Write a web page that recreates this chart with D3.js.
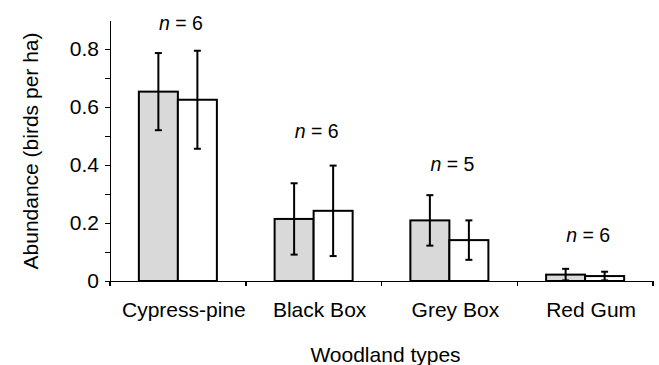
<!DOCTYPE html>
<html>
<head>
<meta charset="utf-8">
<script src="https://d3js.org/d3.v7.min.js"></script>
<style>
	body { margin: 0; background: #fff; }
	svg { font-family: "Liberation Sans", Arial, sans-serif; }
	.axis path, .axis line { stroke: #000; stroke-width: 1.5; shape-rendering: crispEdges; }
	.axis text { font-size: 21px; fill: #000; }
	.labels { font-size: 21px; fill: #000; }
	.nlab { font-size: 19.5px; fill: #000; }
</style>
</head>
<body>
<script>

// woodland types
var categories = ["Cypress-pine", "Black Box", "Grey Box", "Red Gum"];
var series = ["grey", "white"];

// mean abundance (birds per ha) and error bar half-width, one per series
var greyValues  = [0.653, 0.214, 0.209, 0.022];
var greyErrors  = [0.133, 0.123, 0.087, 0.020];
var whiteValues = [0.625, 0.242, 0.141, 0.017];
var whiteErrors = [0.169, 0.156, 0.068, 0.015];

// sample sizes and the height (in axis units) where each label sits
var nValues = [6, 6, 5, 6];
var nLabelLevel = [0.866, 0.493, 0.378, 0.136];

var yTicks = [0, 0.1, 0.2, 0.3, 0.4, 0.5, 0.6, 0.7, 0.8];
var yMax = 0.9;

var svg = d3.select("body").append("svg")
	.attr("width", 659)
	.attr("height", 365);

var margin = { left: 110, right: 6, top: 20, bottom: 84 };
var plotBottom = 365 - margin.bottom;

var x = d3.scaleBand().domain(categories).range([margin.left, 659 - margin.right]).padding(0);
var xInner = d3.scaleBand().domain(series).range([0, x.bandwidth()]).paddingInner(0).paddingOuter(0.74);
var y = d3.scaleLinear().domain([0, yMax]).range([plotBottom, margin.top]);

var fills = { grey: "#d9d9d9", white: "#ffffff" };

// build rows for bars
var rows = [];
categories.forEach(function (c, i) {
	rows.push({ cat: c, s: "grey", v: greyValues[i], e: greyErrors[i] });
	rows.push({ cat: c, s: "white", v: whiteValues[i], e: whiteErrors[i] });
});

// bars
svg.append("g").selectAll("rect").data(rows).enter().append("rect")
	.attr("x", function (d) { return x(d.cat) + xInner(d.s); })
	.attr("y", function (d) { return y(d.v); })
	.attr("width", xInner.bandwidth())
	.attr("height", function (d) { return y(0) - y(d.v); })
	.style("fill", function (d) { return fills[d.s]; })
	.style("stroke", "#000")
	.style("stroke-width", 2);

// error bars
var eb = svg.append("g").selectAll("g").data(rows).enter().append("g")
	.attr("transform", function (d) { return "translate(" + (x(d.cat) + xInner(d.s) + xInner.bandwidth() / 2) + ",0)"; });
eb.append("line")
	.attr("y1", function (d) { return y(d.v + d.e); })
	.attr("y2", function (d) { return y(Math.max(0, d.v - d.e)); })
	.style("stroke", "#000").style("stroke-width", 2);
eb.append("line")
	.attr("x1", -3.5).attr("x2", 3.5)
	.attr("y1", function (d) { return y(d.v + d.e); })
	.attr("y2", function (d) { return y(d.v + d.e); })
	.style("stroke", "#000").style("stroke-width", 2);
eb.append("line")
	.attr("x1", -3.5).attr("x2", 3.5)
	.attr("y1", function (d) { return y(Math.max(0, d.v - d.e)); })
	.attr("y2", function (d) { return y(Math.max(0, d.v - d.e)); })
	.style("stroke", "#000").style("stroke-width", 2);

// y axis
var yAxis = d3.axisLeft(y)
	.tickValues(yTicks)
	.tickSize(5)
	.tickSizeOuter(0)
	.tickPadding(6)
	.tickFormat(function (d) { return Math.round(d * 10) % 2 === 0 ? (d === 0 ? "0" : d3.format(".1f")(d)) : ""; });
svg.append("g").attr("class", "axis")
	.attr("transform", "translate(" + margin.left + ",0)")
	.call(yAxis);

// x axis: labels from the band scale, tick marks at band edges
var xAxis = d3.axisBottom(x).tickSize(0).tickSizeOuter(0).tickPadding(21);
var xg = svg.append("g").attr("class", "axis")
	.attr("transform", "translate(0," + plotBottom + ")")
	.call(xAxis);
xg.selectAll(".tick text").attr("dx", 6);
var edges = [x.range()[0]].concat(categories.map(function (c) { return x(c) + x.bandwidth(); }));
xg.selectAll(".edge").data(edges).enter().append("line")
	.attr("class", "edge")
	.attr("x1", function (d) { return d; })
	.attr("x2", function (d) { return d; })
	.attr("y1", 0).attr("y2", 5);

// n labels
var nl = svg.append("g").selectAll("text").data(categories).enter().append("text")
	.attr("class", "nlab")
	.attr("text-anchor", "middle")
	.attr("x", function (c) { return x(c) + x.bandwidth() / 2 + 3; })
	.attr("y", function (c, i) { return y(nLabelLevel[i]); });
nl.append("tspan").style("font-style", "italic").text("n");
nl.append("tspan").text(function (c, i) { return " = " + nValues[i]; });

// axis titles
svg.append("text").attr("class", "labels")
	.attr("text-anchor", "middle")
	.attr("x", (x.range()[0] + x.range()[1]) / 2 + 4)
	.attr("y", 362)
	.text("Woodland types");
svg.append("text").attr("class", "labels")
	.attr("text-anchor", "middle")
	.attr("transform", "translate(38,151) rotate(-90)")
	.text("Abundance (birds per ha)");

</script>
</body>
</html>
